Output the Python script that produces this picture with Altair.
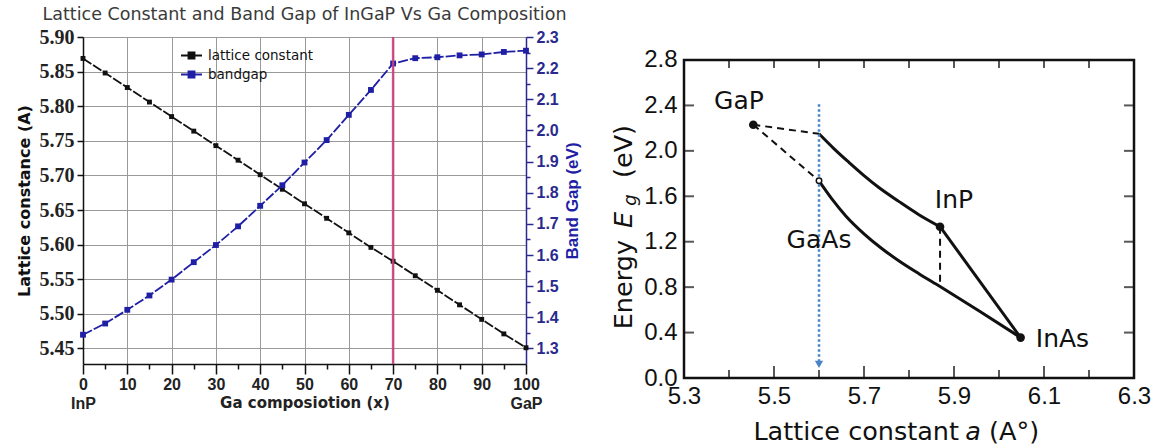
import altair as alt
import pandas as pd

# ---------------- Left panel data ----------------
ga_comp = [0, 5, 10, 15, 20, 25, 30, 35, 40, 45, 50, 55, 60, 65, 70, 75, 80, 85, 90, 95, 100]
lattice_const = [5.869, 5.848, 5.827, 5.806, 5.785, 5.764, 5.743, 5.722, 5.701, 5.680, 5.659,
                 5.638, 5.617, 5.596, 5.576, 5.555, 5.534, 5.513, 5.492, 5.471, 5.451]
band_gap = [1.344, 1.380, 1.424, 1.470, 1.521, 1.577, 1.632, 1.692, 1.758, 1.824, 1.897,
            1.969, 2.050, 2.130, 2.215, 2.232, 2.235, 2.241, 2.244, 2.252, 2.256]
series_names = ["lattice constant", "bandgap"]
marker_comp = [70]

x_tick_vals = [0, 5, 10, 15, 20, 25, 30, 35, 40, 45, 50, 55, 60, 65, 70, 75, 80, 85, 90, 95, 100]
lat_ticks = [5.45, 5.50, 5.55, 5.60, 5.65, 5.70, 5.75, 5.80, 5.85, 5.90]
gap_ticks = [1.30, 1.35, 1.40, 1.45, 1.50, 1.55, 1.60, 1.65, 1.70, 1.75, 1.80, 1.85, 1.90,
             1.95, 2.00, 2.05, 2.10, 2.15, 2.20, 2.25, 2.30]

# ---------------- Right panel data ----------------
comp_names = ["GaP", "InP", "InAs"]
comp_a = [5.454, 5.869, 6.048]
comp_E = [2.230, 1.332, 0.356]

upper_a = [5.600, 5.633, 5.667, 5.700, 5.733, 5.778, 5.822, 5.869]
upper_E = [2.150, 2.020, 1.897, 1.782, 1.677, 1.553, 1.438, 1.332]
tail_a = [5.869, 6.048]
tail_E = [1.332, 0.356]
lower_a = [5.600, 5.629, 5.660, 5.700, 5.738, 5.778, 5.822, 5.869, 5.956, 6.048]
lower_E = [1.736, 1.575, 1.425, 1.270, 1.145, 1.030, 0.918, 0.805, 0.590, 0.356]

dash_seg = ["d1", "d1", "d2", "d2", "d3", "d3"]
dash_a = [5.454, 5.600, 5.454, 5.600, 5.869, 5.869]
dash_E = [2.230, 2.150, 2.230, 1.736, 1.332, 0.805]

open_a = [5.600]
open_E = [1.736]

blue_a = [5.600, 5.600]
blue_E = [2.41, 0.15]
arrow_a = [5.600]
arrow_E = [0.12]

label_names = ["GaP", "InP", "GaAs", "InAs"]
label_a = [5.422, 5.900, 5.600, 6.141]
label_E = [2.44, 1.568, 1.215, 0.34]

frame_a = [5.3]
frame_a2 = [6.3]
frame_E = [0.0]
frame_E2 = [2.8]

bx_major = [5.5, 5.7, 5.9, 6.1]
bx_minor = [5.4, 5.6, 5.8, 6.0, 6.2]
top_ticks = [5.4, 5.5, 5.6, 5.7, 5.8, 5.9, 6.0, 6.1, 6.2]
side_ticks = [0.4, 0.8, 1.2, 1.6, 2.0, 2.4]
rx_labels = [5.3, 5.5, 5.7, 5.9, 6.1, 6.3]
ry_labels = [0.0, 0.4, 0.8, 1.2, 1.6, 2.0, 2.4, 2.8]

# ---------------- styles ----------------
BLACK = "#111111"
BLUE = "#1f1fa6"
AXBLUE = "#2a2a8e"
MAG = "#c8407c"
GRID = "#9a9a9a"
DOTBLUE = "#4a84c8"
FONT_T = "DejaVu Sans"
FONT_N = "Liberation Sans"

LW, LH = 443, 327
RW, RH = 450, 341
RY_TOP = 3.0025  # y-domain top so that 2.8 sits 23 px below the panel top

# ---------------- Left chart ----------------
df_left = pd.DataFrame({"x": ga_comp, "lattice": lattice_const, "bandgap": band_gap})
xs_left = alt.Scale(domain=[0, 100], nice=False, zero=False)

x_axis_left = alt.Axis(
    values=x_tick_vals, grid=True, gridColor=GRID, gridWidth=1,
    gridOpacity={"condition": {"test": "datum.value % 10 != 0", "value": 0}, "value": 1},
    tickSize={"condition": {"test": "datum.value % 10 != 0", "value": 5}, "value": 10},
    tickColor=BLACK, tickWidth=1.5, domainColor=BLACK, domainWidth=1.5,
    labelExpr="datum.value == 0 ? ['0','InP'] : (datum.value == 100 ? ['100','GaP'] : (datum.value % 10 == 0 ? datum.label : ''))",
    labelFont=FONT_N, labelFontSize=16, labelFontWeight="bold", labelColor="#222222",
    labelPadding=2, labelLineHeight=19, labelOverlap=False, labelFlush=False,
    title="Ga composiotion (x)", titleFont=FONT_T, titleFontSize=15,
    titleFontWeight="bold", titleColor="#222222", titleY=31,
)

y_lat = alt.Y(
    "lattice:Q", scale=alt.Scale(domain=[5.4275, 5.90], nice=False, zero=False),
    axis=alt.Axis(
        values=lat_ticks, format=".2f", grid=True, gridColor=GRID, gridWidth=1,
        tickSize=6, tickColor=BLACK, tickWidth=1.5, domainColor=BLACK, domainWidth=1.5,
        labelFont="Liberation Serif", labelFontSize=20, labelFontWeight="bold",
        labelColor="#222222", labelPadding=3, labelFlush=False, labelOverlap=False,
        title="Lattice constance (A)", titleFont=FONT_T, titleFontSize=16,
        titleFontWeight="bold", titleColor=BLACK, titlePadding=7,
    ),
)

minor_test = "abs(datum.value*10 - round(datum.value*10)) > 0.001"
y_gap = alt.Y(
    "bandgap:Q", scale=alt.Scale(domain=[1.25, 2.30], nice=False, zero=False),
    axis=alt.Axis(
        orient="right", values=gap_ticks, grid=False,
        labelExpr="abs(datum.value*10 - round(datum.value*10)) < 0.001 ? format(datum.value, '.1f') : ''",
        tickSize={"condition": {"test": minor_test, "value": 4}, "value": 7},
        tickColor=AXBLUE, tickWidth=1.5, domainColor=AXBLUE, domainWidth=1.5,
        labelFont=FONT_N, labelFontSize=16, labelFontWeight="bold",
        labelColor=AXBLUE, labelPadding=3, labelFlush=False, labelOverlap=False,
        title="Band Gap (eV)", titleAngle=270, titleBaseline="top", titleFont=FONT_N,
        titleFontSize=17, titleFontWeight="bold", titleColor=BLUE, titlePadding=6,
    ),
)

color_scale = alt.Scale(domain=series_names, range=[BLACK, BLUE])
legend = alt.Legend(
    title=None, orient="none", legendX=97, legendY=7, padding=0, rowPadding=0,
    symbolType="M-1,0L1,0M-0.28,-0.28L0.28,-0.28L0.28,0.28L-0.28,0.28Z",
    symbolSize=441, symbolStrokeWidth=2, labelFont=FONT_T, labelFontSize=13.5,
    labelColor=BLACK, labelOffset=5,
)

x_left = alt.X("x:Q", scale=xs_left, axis=x_axis_left)

lat_layer = alt.Chart(df_left).transform_calculate(series="'lattice constant'").mark_line(
    strokeWidth=1.8, strokeDash=[10, 2],
    point=alt.OverlayMarkDef(shape="square", size=24, filled=True, opacity=1),
).encode(x=x_left, y=y_lat, color=alt.Color("series:N", scale=color_scale, legend=legend))

gap_layer = alt.Chart(df_left).transform_calculate(series="'bandgap'").mark_line(
    strokeWidth=1.8, strokeDash=[10, 2],
    point=alt.OverlayMarkDef(shape="square", size=34, filled=True, opacity=1),
).encode(x=x_left, y=y_gap, color=alt.Color("series:N", scale=color_scale, legend=legend))

vline = alt.Chart(pd.DataFrame({"x": marker_comp})).mark_rule(
    color=MAG, strokeWidth=2.5, opacity=0.9
).encode(x=x_left)

left = alt.layer(lat_layer, gap_layer, vline).resolve_scale(y="independent").properties(
    width=LW, height=LH,
    title=alt.TitleParams(
        "Lattice Constant and Band Gap of InGaP Vs Ga Composition",
        font=FONT_T, fontSize=17.5, fontWeight="normal", color="#3a3a3a",
        offset=4, anchor="middle",
    ),
    view=alt.ViewBackground(stroke="transparent"),
)

# ---------------- Right chart ----------------
xs_r = alt.Scale(domain=[5.3, 6.3], nice=False, zero=False)
ys_r = alt.Scale(domain=[0, RY_TOP], nice=False, zero=False)

x_axis_r = alt.Axis(values=rx_labels, format=".1f", tickSize=0, domain=False, grid=False,
                    labelFont=FONT_N, labelFontSize=24, labelColor=BLACK, labelPadding=6,
                    labelFlush=False, labelOverlap=False, title=None)
y_axis_r = alt.Axis(values=ry_labels, format=".1f", tickSize=0, domain=False, grid=False,
                    labelFont=FONT_N, labelFontSize=24, labelColor=BLACK, labelPadding=7,
                    labelFlush=False, labelOverlap=False, title=None)

def xr(field):
    return alt.X(field, scale=xs_r, axis=x_axis_r)

def yr(field):
    return alt.Y(field, scale=ys_r, axis=y_axis_r)

frame = alt.Chart(pd.DataFrame({"a": frame_a, "a2": frame_a2, "E": frame_E, "E2": frame_E2})).mark_rect(
    filled=False, stroke=BLACK, strokeWidth=2.5).encode(
    x=xr("a:Q"), x2="a2:Q", y=yr("E:Q"), y2="E2:Q")

upper = alt.Chart(pd.DataFrame({"a": upper_a, "E": upper_E})).mark_line(
    color=BLACK, strokeWidth=3, interpolate="monotone").encode(x=xr("a:Q"), y=yr("E:Q"))
tail = alt.Chart(pd.DataFrame({"a": tail_a, "E": tail_E})).mark_line(
    color=BLACK, strokeWidth=3).encode(x=xr("a:Q"), y=yr("E:Q"))
lower = alt.Chart(pd.DataFrame({"a": lower_a, "E": lower_E})).mark_line(
    color=BLACK, strokeWidth=3, interpolate="monotone").encode(x=xr("a:Q"), y=yr("E:Q"))
dashed = alt.Chart(pd.DataFrame({"seg": dash_seg, "a": dash_a, "E": dash_E})).mark_line(
    color=BLACK, strokeWidth=2, strokeDash=[7, 5]).encode(
    x=xr("a:Q"), y=yr("E:Q"), detail="seg:N")
blue_line = alt.Chart(pd.DataFrame({"a": blue_a, "E": blue_E})).mark_line(
    color=DOTBLUE, strokeWidth=2.5, strokeDash=[2.5, 2.5]).encode(x=xr("a:Q"), y=yr("E:Q"))
arrow = alt.Chart(pd.DataFrame({"a": arrow_a, "E": arrow_E})).mark_point(
    shape="triangle-down", filled=True, color=DOTBLUE, size=70, opacity=1).encode(
    x=xr("a:Q"), y=yr("E:Q"))
dots = alt.Chart(pd.DataFrame({"name": comp_names, "a": comp_a, "E": comp_E})).mark_circle(
    color=BLACK, size=75, opacity=1).encode(x=xr("a:Q"), y=yr("E:Q"))
open_pt = alt.Chart(pd.DataFrame({"a": open_a, "E": open_E})).mark_point(
    shape="circle", filled=True, fill="white", stroke=BLACK, strokeWidth=1.5, size=30,
    opacity=1).encode(x=xr("a:Q"), y=yr("E:Q"))
labels = alt.Chart(pd.DataFrame({"t": label_names, "a": label_a, "E": label_E})).mark_text(
    font=FONT_T, fontSize=25, color=BLACK).encode(x=xr("a:Q"), y=yr("E:Q"), text="t:N")

def vticks(vals, level, size, off):
    df = pd.DataFrame({"a": vals, "E": [level] * len(vals)})
    return alt.Chart(df).mark_tick(color=BLACK, thickness=2, size=size, yOffset=off,
                                   orient="vertical").encode(x=xr("a:Q"), y=yr("E:Q"))

def hticks(vals, level, size, off):
    df = pd.DataFrame({"E": vals, "a": [level] * len(vals)})
    return alt.Chart(df).mark_tick(color=BLACK, thickness=2, size=size, xOffset=off,
                                   orient="horizontal").encode(x=xr("a:Q"), y=yr("E:Q"))

ticks = [
    vticks(bx_major, 0.0, 12, -6),
    vticks(bx_minor, 0.0, 8, -4),
    vticks(top_ticks, 2.8, 8, 4),
    hticks(side_ticks, 5.3, 10, 5),
    hticks(side_ticks, 6.3, 10, -5),
]

one = pd.DataFrame({"k": [0]})
def txt(s, x, y, **kw):
    return alt.Chart(one).mark_text(text=s, font=FONT_T, color=BLACK, baseline="middle", **kw).encode(
        x=alt.value(x), y=alt.value(y))

xt_y = 395
titles = [
    txt("Lattice constant", 275, xt_y, fontSize=25.5, align="right"),
    txt("a", 289, xt_y, fontSize=25.5, align="center", fontStyle="italic"),
    txt("(A°)", 305, xt_y, fontSize=25.5, align="left"),
    txt("Energy", -60, 203, fontSize=25.5, align="right", angle=270),
    txt("E", -60, 183, fontSize=25.5, align="center", angle=270, fontStyle="italic"),
    txt("g", -53, 163, fontSize=18, align="center", angle=270, fontStyle="italic"),
    txt("(eV)", -60, 141, fontSize=25.5, align="left", angle=270),
]

right = alt.layer(
    frame, upper, tail, lower, dashed, blue_line, arrow, dots, open_pt, labels, *ticks, *titles
).properties(
    width=RW, height=RH,
    view=alt.ViewBackground(stroke="transparent"),
)

chart = alt.hconcat(left, right, spacing=30).properties(
    padding={"left": 15, "top": 5, "right": 0, "bottom": 0}
)

chart.save("out.html", embed_options={"renderer": "svg", "actions": False})
